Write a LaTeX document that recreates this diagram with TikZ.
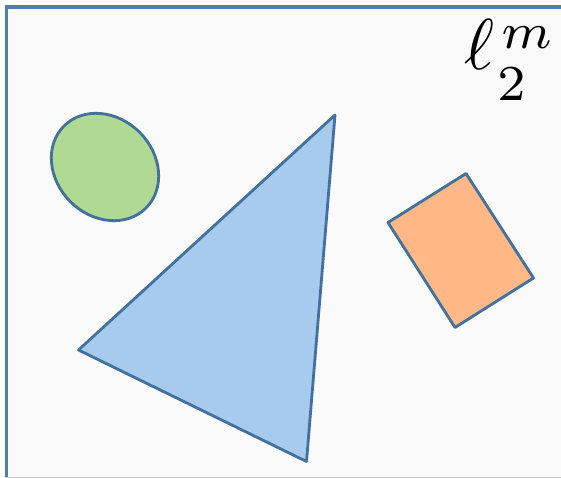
\documentclass[tikz,border=0pt]{standalone}
\usepackage{amsmath}
\definecolor{framec}{HTML}{4F7DAE}
\definecolor{edgec}{HTML}{41719C}
\definecolor{bgc}{HTML}{FAFAFA}
\definecolor{greenf}{HTML}{B0D994}
\definecolor{bluef}{HTML}{A6CBEF}
\definecolor{orangef}{HTML}{FFB886}
\tikzset{shapeline/.style={draw=edgec, line width=2.8pt, line join=round}}
\begin{document}
\begin{tikzpicture}[x=1pt,y=-1pt]
\useasboundingbox (0,0) rectangle (561,478);
\clip (0,0) rectangle (561,478);
\fill[white] (0,0) rectangle (561,478);
\fill[bgc] (6,7) rectangle (575,477);
\draw[framec, line width=3.2pt] (575,7) -- (6.5,7) -- (6.5,477);
\draw[gray!45, line width=1.2pt] (6,477.2) -- (561,477.2);
% ellipse
\filldraw[shapeline, fill=greenf] (105,167) ellipse[x radius=58, y radius=49, rotate=-45];
% triangle
\filldraw[shapeline, fill=bluef] (335,115) -- (78.5,350) -- (306.5,461.5) -- cycle;
% rectangle
\filldraw[shapeline, fill=orangef] (388,222.5) -- (466,173.5) -- (533.5,278) -- (455,327.5) -- cycle;
% label
\node[anchor=base west, inner sep=0pt, scale=7.2, transform shape=false] (lab) at (463,70)
  {$\ell^{\mkern2mu\raisebox{-0.6pt}{$\scriptstyle m$}}_{\mkern1mu\raisebox{-1.7pt}{$\scriptstyle 2$}}$};
\end{tikzpicture}
\end{document}
